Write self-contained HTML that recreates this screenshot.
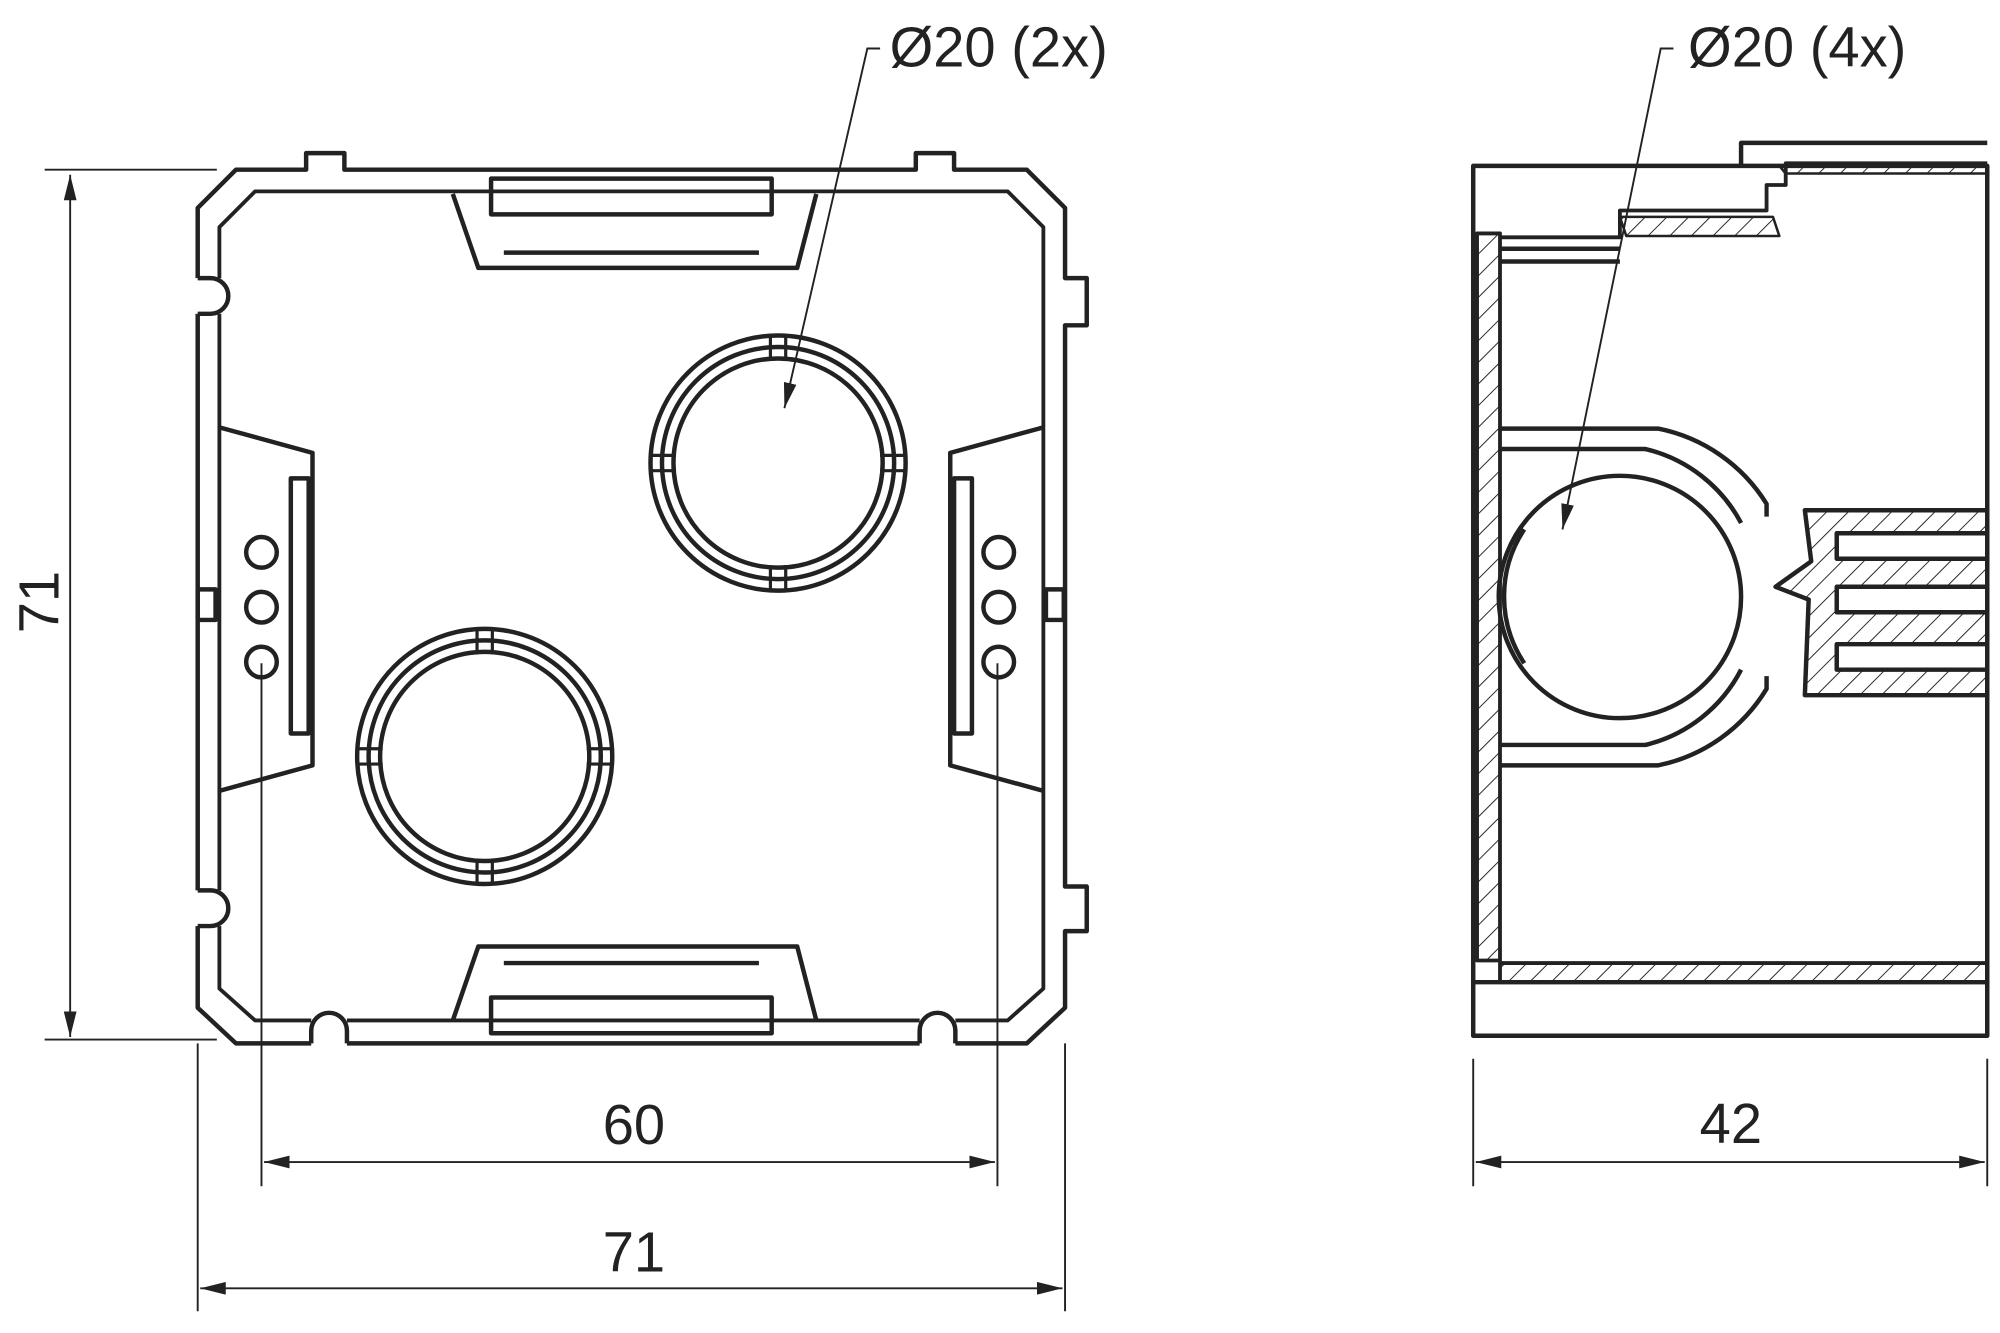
<!DOCTYPE html>
<html><head><meta charset="utf-8"><style>html,body{margin:0;padding:0;background:#fff}svg{display:block}</style></head>
<body>
<svg width="2000" height="1333" viewBox="0 0 1568 1045" xmlns="http://www.w3.org/2000/svg" font-family="Liberation Sans, sans-serif">
<defs>
<marker id="a" viewBox="0 0 20 10" refX="20" refY="5" markerWidth="20" markerHeight="10" markerUnits="userSpaceOnUse" orient="auto"><path d="M0,0 L20,5 L0,10 z" fill="#222"/></marker>
<marker id="b" viewBox="0 0 20 10" refX="0" refY="5" markerWidth="20" markerHeight="10" markerUnits="userSpaceOnUse" orient="auto"><path d="M20,0 L0,5 L20,10 z" fill="#222"/></marker>
<pattern id="h" width="12" height="12" patternUnits="userSpaceOnUse" patternTransform="rotate(45)"><line x1="0" y1="0" x2="0" y2="12" stroke="#222" stroke-width="1.5"/></pattern>
</defs>
<g fill="none" stroke="#222" stroke-width="3.5" stroke-linejoin="round">
<path d="M185,133 L240,133 L240,120 L270,120 L270,133 L718,133 L718,120 L748,120 L748,133 L805,133 L835,163 L835,218 L852,218 L852,255 L835,255 L835,695 L852,695 L852,730 L835,730 L835,790 L805,818 L185,818 L155,790 L155,163 Z"/>
<path d="M200,150 L790,150 L818,178 L818,775 L790,800 L200,800 L172,775 L172,178 Z" stroke-width="3"/>
<!-- notches -->
<g stroke="none" fill="#fff"><rect x="150" y="218" width="28" height="28"/><rect x="150" y="698" width="28" height="28"/><rect x="244" y="797" width="28" height="26"/><rect x="721" y="797" width="28" height="26"/></g>
<path d="M155,218 L165,218 A14,14 0 1 1 165,246 L155,246"/>
<path d="M155,698 L165,698 A14,14 0 1 1 165,726 L155,726"/>
<path d="M244,818 L244,808 A14,14 0 1 1 272,808 L272,818"/>
<path d="M721,818 L721,808 A14,14 0 1 1 749,808 L749,818"/>
<path d="M355,152 L375,210 L625,210 L640,152"/>
<rect x="385" y="140" width="220" height="28"/><line x1="395" y1="198" x2="595" y2="198"/>
<path d="M355,800 L375,742 L625,742 L640,800"/>
<rect x="385" y="782" width="220" height="28"/><line x1="395" y1="755" x2="595" y2="755"/>
<path d="M172,335 L245,355 L245,600 L172,620"/><rect x="228" y="375" width="14" height="200"/>
<path d="M818,335 L745,355 L745,600 L818,620"/><rect x="748" y="375" width="14" height="200"/>
<rect x="155" y="462" width="14" height="24"/><rect x="820" y="462" width="14" height="24"/>
<circle cx="205" cy="433" r="12"/><circle cx="205" cy="476" r="12"/><circle cx="205" cy="519" r="12"/>
<circle cx="783" cy="433" r="12"/><circle cx="783" cy="476" r="12"/><circle cx="783" cy="519" r="12"/>
<circle cx="610" cy="363" r="100"/><circle cx="610" cy="363" r="91"/><circle cx="610" cy="363" r="82"/>
<circle cx="380" cy="593" r="100"/><circle cx="380" cy="593" r="91"/><circle cx="380" cy="593" r="82"/>
<g stroke-width="2.5"><line x1="604" y1="263" x2="604" y2="283"/><line x1="616" y1="263" x2="616" y2="283"/><line x1="604" y1="443" x2="604" y2="463"/><line x1="616" y1="443" x2="616" y2="463"/><line x1="510" y1="357" x2="530" y2="357"/><line x1="510" y1="369" x2="530" y2="369"/><line x1="690" y1="357" x2="710" y2="357"/><line x1="690" y1="369" x2="710" y2="369"/>
<line x1="374" y1="493" x2="374" y2="513"/><line x1="386" y1="493" x2="386" y2="513"/><line x1="374" y1="673" x2="374" y2="693"/><line x1="386" y1="673" x2="386" y2="693"/><line x1="280" y1="587" x2="300" y2="587"/><line x1="280" y1="599" x2="300" y2="599"/><line x1="460" y1="587" x2="480" y2="587"/><line x1="460" y1="599" x2="480" y2="599"/></g>
<!-- right view -->
<rect x="1155" y="130" width="403" height="682"/>
<path d="M1365,130 L1365,112 L1558,112"/>
<rect x="1158" y="183" width="18" height="570" fill="url(#h)" stroke-width="3"/>
<path d="M1176,186 L1270,186 L1270,165 L1385,165 L1385,145 L1400,145 L1400,128 L1558,128" stroke-width="3"/>
<path d="M1270,170 L1390,170 L1395,185 L1275,185 Z" fill="url(#h)" stroke-width="2"/>
<path d="M1395,130 L1558,130 L1558,136 L1400,136 Z" fill="url(#h)" stroke-width="2"/>
<line x1="1176" y1="195" x2="1270" y2="195"/><line x1="1176" y1="205" x2="1270" y2="205"/>
<rect x="1176" y="755" width="382" height="15" fill="url(#h)" stroke-width="3"/>
<line x1="1155" y1="770" x2="1558" y2="770"/>
<path d="M1176,336 L1300,336 A130,130 0 0 1 1385,395 L1385,405 M1176,352 L1290,352 A115,115 0 0 1 1365,410"/>
<path d="M1176,600 L1300,600 A130,130 0 0 0 1385,540 L1385,530 M1176,584 L1290,584 A115,115 0 0 0 1365,525"/>
<circle cx="1270" cy="468" r="95"/>
<path d="M1195,415 A95,95 0 0 0 1195,520"/>
<path d="M1415,400 L1558,400 L1558,545 L1415,545 L1418,470 L1392,460 L1420,440 Z" fill="url(#h)"/>
<rect x="1440" y="418" width="118" height="20" fill="#fff"/><rect x="1440" y="460" width="118" height="20" fill="#fff"/><rect x="1440" y="505" width="118" height="20" fill="#fff"/>
</g>
<g stroke="#222" stroke-width="1.5" fill="none">
<line x1="35" y1="133" x2="170" y2="133"/><line x1="35" y1="815" x2="170" y2="815"/>
<line x1="55" y1="137" x2="55" y2="813" marker-start="url(#b)" marker-end="url(#a)"/>
<line x1="205" y1="520" x2="205" y2="930"/><line x1="782" y1="520" x2="782" y2="930"/>
<line x1="207" y1="911" x2="780" y2="911" marker-start="url(#b)" marker-end="url(#a)"/>
<line x1="155" y1="818" x2="155" y2="1028"/><line x1="835" y1="818" x2="835" y2="1028"/>
<line x1="157" y1="1010" x2="833" y2="1010" marker-start="url(#b)" marker-end="url(#a)"/>
<line x1="1155" y1="830" x2="1155" y2="930"/><line x1="1558" y1="830" x2="1558" y2="930"/>
<line x1="1157" y1="911" x2="1556" y2="911" marker-start="url(#b)" marker-end="url(#a)"/>
<path d="M690,38 L680,38 L615,320" marker-end="url(#a)"/>
<path d="M1312,38 L1302,38 L1225,415" marker-end="url(#a)"/>
</g>
<g font-size="44" fill="#222" text-anchor="middle">
<text x="497" y="897">60</text><text x="497" y="997">71</text><text x="1357" y="896">42</text>
<text transform="translate(46,472) rotate(-90)">71</text>
<text x="783" y="52">Ø20 (2x)</text><text x="1409" y="52">Ø20 (4x)</text>
</g>
</svg>
</body></html>
